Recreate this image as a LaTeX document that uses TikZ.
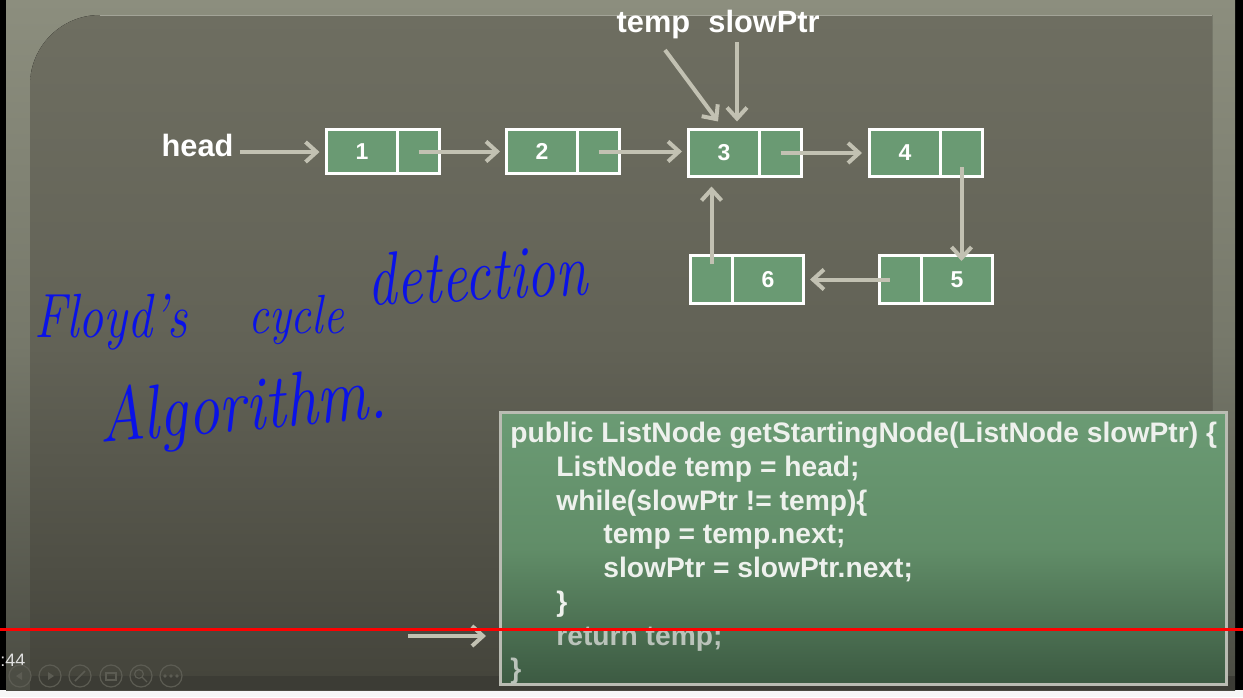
\documentclass[tikz,border=0pt]{standalone}
\usepackage{fontspec}
\usepackage{graphicx}
\newfontfamily\sansf{Liberation Sans}
\usetikzlibrary{arrows.meta}
\definecolor{framec}{HTML}{8C8E7E}
\definecolor{framem}{HTML}{76786A}
\definecolor{framed}{HTML}{4A4B42}
\definecolor{panelt}{HTML}{6E6E61}
\definecolor{panelm}{HTML}{626256}
\definecolor{panelb}{HTML}{45453C}
\definecolor{stripc}{HTML}{3C3C35}
\definecolor{ngreen}{HTML}{6A9A73}
\definecolor{arrc}{HTML}{C2C1B2}
\definecolor{codet}{HTML}{6B9B74}
\definecolor{codem}{HTML}{618D68}
\definecolor{codeb}{HTML}{3C5A42}
\definecolor{codetxt}{HTML}{EEF1ED}
\definecolor{codedim}{HTML}{BAC3BA}
\definecolor{boxline}{HTML}{BABCB3}
\definecolor{inkblue}{HTML}{0A12E8}
\definecolor{ctrl}{HTML}{5C5C53}
\begin{document}
\begin{tikzpicture}[x=0.5pt,y=-0.5pt,
  cell/.style={draw=white, line width=1.5pt, fill=ngreen, inner sep=0pt, outer sep=0pt,
    font=\sansf\bfseries\fontsize{11.5}{13}\selectfont, text=white},
  datac/.style={cell, minimum width=35.5pt},
  ptrc/.style={cell, minimum width=21pt},
  arr/.style={draw=arrc, line width=2pt, -{Straight Barb[length=5.5pt,width=10pt]}},
  lbl/.style={font=\sansf\bfseries\fontsize{15.4}{18}\selectfont, text=white, inner sep=1pt},
  codeln/.style={anchor=base west, inner sep=0pt, font=\sansf\bfseries\fontsize{14.1}{17}\selectfont, text=codetxt},
  hand/.style={anchor=base west, inner sep=0pt, text=inkblue}]
\useasboundingbox (0,0) rectangle (1243,697);
% background layers
\fill[white!97!black] (0,0) rectangle (1243,697);
\fill[black] (0,0) rectangle (1243,690);
\fill[top color=framec, bottom color=framed, middle color=framem] (6,0) rectangle (1235,690);
\fill[top color=panelt, bottom color=panelb, middle color=panelm]
  (30,676) -- (30,85) arc[start angle=180, end angle=270, radius=70] -- (1212,15) -- (1212,676) -- cycle;
\draw[framec!80!white, line width=0.5pt] (100,15) -- (1212,15);
\fill[stripc] (30,676) rectangle (1235,690);
% list nodes: row 1
\node[datac, minimum height=22pt] (n1) at (362,151.5) {1};
\node[ptrc, minimum height=22pt] (n1p) at (418.5,151.5) {};
\node[datac, minimum height=22pt] (n2) at (542,151.5) {2};
\node[ptrc, minimum height=22pt] (n2p) at (598.5,151.5) {};
\node[datac, minimum height=23.5pt] (n3) at (724,153) {3};
\node[ptrc, minimum height=23.5pt] (n3p) at (780.5,153) {};
\node[datac, minimum height=23.5pt] (n4) at (905,153) {4};
\node[ptrc, minimum height=23.5pt] (n4p) at (961.5,153) {};
% row 2
\node[ptrc, minimum height=24pt] (n6p) at (711.5,279.5) {};
\node[datac, minimum height=24pt] (n6) at (768,279.5) {6};
\node[ptrc, minimum height=24pt] (n5p) at (900.5,279.5) {};
\node[datac, minimum height=24pt] (n5) at (957,279.5) {5};
% labels
\node[lbl, anchor=base] (head) at (197.5,156) {head};
\node[lbl, anchor=base] (temp) at (653.5,32) {temp};
\node[lbl, anchor=base] (slow) at (764,32) {slowPtr};
\coordinate (ts) at (665,50);
\coordinate (ss) at (737,42);
% connectors
\draw[arr, shorten >=3.5pt] ([shift={(2pt,2pt)}]head.base east) -- ([yshift=2pt]head.base east -| n1.west);
\draw[arr, shorten >=3.25pt] (n1p.center) -- (n1p.center -| n2.west);
\draw[arr, shorten >=3.25pt] (n2p.center) -- (n2p.center -| n3.west);
\draw[arr, shorten >=3.75pt] (n3p.center) -- (n3p.center -| n4.west);
\draw[arr, shorten >=4.25pt] ([yshift=-7pt]n4p.center) -- ([yshift=-7pt]n4p.center |- n5.north);
\draw[arr, shorten >=3.25pt] ([xshift=-5.5pt]n5p.center) -- (n5p.center -| n6.east);
\draw[arr, shorten >=5pt] ([yshift=8pt]n6p.center) -- (n6p.center |- n3.south);
\draw[arr, shorten >=5pt] (ts) -- (n3.north);
\draw[arr, shorten >=4pt] (ss) -- (ss |- n3.north);
% handwriting
\node[hand, font=\itshape\fontsize{25}{29}\selectfont] (w1) at (34,337) {\scalebox{1}[1.25]{Floyd's}};
\node[hand, font=\itshape\fontsize{23}{27}\selectfont] (w2) at (248,333) {\scalebox{1}[1.2]{cycle}};
\node[hand, font=\itshape\fontsize{29}{34}\selectfont, rotate=3] (w3) at (368,306) {\scalebox{1}[1.3]{detection}};
\node[hand, font=\itshape\fontsize{32}{37}\selectfont, rotate=5] (w4) at (100,443) {\scalebox{1}[1.2]{Algorithm.}};
% code box
\node[draw=boxline, line width=1.5pt, top color=codet, bottom color=codeb, middle color=codem,
  minimum width=363pt, minimum height=136pt, inner sep=0pt] (box) at (863.5,548.5) {};
\node[codeln] (c1) at (510,442) {public ListNode getStartingNode(ListNode slowPtr) \{};
\node[codeln] (c2) at (556,476) {ListNode temp = head;};
\node[codeln] (c3) at (556,510) {while(slowPtr != temp)\{};
\node[codeln] (c4) at (603,543.5) {temp = temp.next;};
\node[codeln] (c5) at (603,577) {slowPtr = slowPtr.next;};
\node[codeln] (c6) at (556,611) {\}};
\node[codeln, text=codedim] (c7) at (556,645) {return temp;};
\node[codeln, text=codedim] (c8) at (510,678) {\}};
\coordinate (ra) at (408,636);
\draw[arr, shorten >=6.5pt] (ra) -- (ra -| box.west);
% video overlay
\draw[red, line width=1.6pt] (0,629.5) -- (1243,629.5);
\node[anchor=base west, inner sep=0pt, font=\sansf\fontsize{9}{11}\selectfont, text=white!88!black] (time) at (0,666) {:44};
\foreach \cx in {20,50,80,111,141,171}{
  \draw[ctrl, line width=0.6pt] (\cx,676) circle[radius=5.5pt];
}
\fill[ctrl] (16,676) -- (22,672) -- (22,680) -- cycle;
\fill[ctrl] (54,676) -- (48,672) -- (48,680) -- cycle;
\draw[ctrl, line width=0.8pt] (75,681) -- (85,671);
\draw[ctrl, line width=0.6pt] (106,673) rectangle (116,680);
\draw[ctrl, line width=0.6pt] (139,674) circle[radius=2.2pt] (142,677) -- (147,682);
\fill[ctrl] (165,676) circle[radius=0.9pt] (171,676) circle[radius=0.9pt] (177,676) circle[radius=0.9pt];
\end{tikzpicture}
\end{document}
